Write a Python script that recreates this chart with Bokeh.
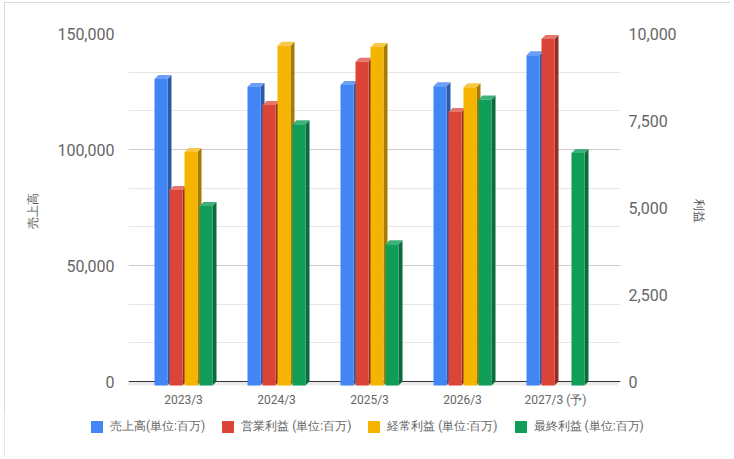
import math
from bokeh.plotting import figure
from bokeh.layouts import column
from bokeh.models import (Range1d, LinearAxis, FixedTicker, NumeralTickFormatter,
                          Legend, LegendItem)
from bokeh.embed import file_html
from bokeh.resources import INLINE

# ---------------- data ----------------
categories = ["2023/3", "2024/3", "2025/3", "2026/3", "2027/3 (予)"]
sales = [132100, 128700, 129500, 129000, 142300]          # 売上高 (left axis)
op_profit = [5620, 8060, 9300, 7860, 9960]                # 営業利益 (right axis)
ord_profit = [6710, 9760, 9730, 8570, float("nan")]       # 経常利益 (right axis)
net_profit = [5160, 7510, 4060, 8220, 6680]               # 最終利益 (right axis)
series_names = ["売上高(単位:百万)", "営業利益 (単位:百万)",
                "経常利益 (単位:百万)", "最終利益 (単位:百万)"]
left_ticks = [0, 50000, 100000, 150000]
right_ticks = [0, 2500, 5000, 7500, 10000]
left_title = "売上高"
right_title = "利益"

# ---------------- styling / geometry ----------------
front_colors = ["#4285F4", "#DB4437", "#F4B400", "#0F9D58"]
side_colors = ["#2C5BA8", "#932E25", "#A67B00", "#0A6B3C"]
top_colors = ["#6C9FF6", "#E4766D", "#F7C748", "#40B07B"]

FONT = "Roboto"
L_MAX = left_ticks[-1]
R_MAX = right_ticks[-1]
GRID_PX = 348.0          # pixel height from 0 to max
FRAME_H = 355            # frame height (extra below 0 for floor)
FRAME_W = 492
CAT_PX = 93.0            # pixels per category
FIRST_CENTER_PX = 55.0   # px from frame left to first category centre

x_start = -FIRST_CENTER_PX / CAT_PX
x_end = x_start + FRAME_W / CAT_PX
yl_start = -(FRAME_H - GRID_PX) / GRID_PX * L_MAX
yr_start = -(FRAME_H - GRID_PX) / GRID_PX * R_MAX

W = 726
H1 = 408
H2 = 46
p = figure(width=W, height=H1, output_backend="svg", toolbar_location=None,
           x_range=Range1d(x_start, x_end), y_range=Range1d(yl_start, L_MAX),
           min_border_left=124, min_border_right=W - 124 - FRAME_W,
           min_border_top=31, min_border_bottom=H1 - 31 - FRAME_H)
p.extra_y_ranges = {"right": Range1d(yr_start, R_MAX)}
p.outline_line_color = None
p.background_fill_color = "white"
p.border_fill_color = "white"

# grid
p.xgrid.visible = False
minor = []
for a, b in zip(left_ticks[:-1], left_ticks[1:]):
    step = (b - a) / 3.0
    minor += [a + step, a + 2 * step]
p.ygrid.ticker = FixedTicker(ticks=left_ticks[1:], minor_ticks=minor)
p.ygrid.grid_line_color = "#cccccc"
p.ygrid.minor_grid_line_color = "#e6e6e6"

# depth of 3D effect
DX = 4.0 / CAT_PX
DY_PX = 4.0
BAR_W = 13.0 / CAT_PX
BAR_STEP = 15.0 / CAT_PX
GROUP_OFF = -29.0 / CAT_PX

# floor below baseline
fdy = DY_PX / GRID_PX * L_MAX
p.patch([x_start, x_end, x_end - DX, x_start - DX], [0, 0, -fdy, -fdy],
        fill_color="#ebebeb", line_color=None)
# baseline
p.line([x_start, x_end], [0, 0], line_color="#333333", line_width=1)

all_series = [sales, op_profit, ord_profit, net_profit]
for k, vals in enumerate(all_series):
    vmax = L_MAX if k == 0 else R_MAX
    dy = DY_PX / GRID_PX * vmax
    fl, fr, fb, ft = [], [], [], []
    sxs, sys_, txs, tys = [], [], [], []
    for i, v in enumerate(vals):
        if v is None or (isinstance(v, float) and math.isnan(v)):
            continue
        x0 = i + GROUP_OFF + k * BAR_STEP
        x1 = x0 + BAR_W
        fl.append(x0); fr.append(x1); fb.append(-dy); ft.append(v - dy)
        sxs.append([x1, x1 + DX, x1 + DX, x1])
        sys_.append([-dy, 0, v, v - dy])
        txs.append([x0, x1, x1 + DX, x0 + DX])
        tys.append([v - dy, v - dy, v, v])
    kw = {} if k == 0 else {"y_range_name": "right"}
    p.patches(sxs, sys_, fill_color=side_colors[k], line_color=None, **kw)
    p.patches(txs, tys, fill_color=top_colors[k], line_color=None, **kw)
    p.quad(left=fl, right=fr, bottom=fb, top=ft, fill_color=front_colors[k],
           line_color=None, **kw)

def style_axis(ax, size, standoff):
    ax.axis_line_color = None
    ax.major_tick_line_color = None
    ax.minor_tick_line_color = None
    ax.major_tick_out = 0
    ax.major_tick_in = 0
    ax.minor_tick_out = 0
    ax.minor_tick_in = 0
    ax.major_label_text_font = FONT
    ax.major_label_text_font_size = size
    ax.major_label_text_color = "#666666"
    ax.major_label_standoff = standoff
    ax.axis_label_text_font = FONT
    ax.axis_label_text_font_size = "12px"
    ax.axis_label_text_font_style = "normal"
    ax.axis_label_text_color = "#555555"

# axes
p.yaxis.ticker = FixedTicker(ticks=left_ticks)
ax_l = p.yaxis[0]
ax_l.formatter = NumeralTickFormatter(format="0,0")
style_axis(ax_l, "16px", 14)
ax_l.axis_label = left_title
ax_l.axis_label_standoff = 14

ax_r = LinearAxis(y_range_name="right", ticker=FixedTicker(ticks=right_ticks),
                  formatter=NumeralTickFormatter(format="0,0"))
style_axis(ax_r, "16px", 8)
ax_r.axis_label = right_title
ax_r.axis_label_standoff = 12
p.add_layout(ax_r, "right")

ax_x = p.xaxis[0]
ax_x.ticker = FixedTicker(ticks=list(range(len(categories))))
ax_x.major_label_overrides = {i: c for i, c in enumerate(categories)}
style_axis(ax_x, "12px", 4)

# ---------------- legend strip ----------------
pl = figure(width=W, height=H2, output_backend="svg", toolbar_location=None,
            x_axis_type=None, y_axis_type=None, x_range=Range1d(0, 1),
            y_range=Range1d(0, 1), min_border=0, min_border_left=0,
            min_border_right=0, min_border_top=0, min_border_bottom=0)
pl.outline_line_color = None
pl.background_fill_color = "white"
pl.border_fill_color = "white"
try:
    p.frame_align = False
    pl.frame_align = False
except Exception:
    pass
items = []
for k in range(len(series_names)):
    # legend-only swatch renderer, kept outside the visible range of the strip
    r = pl.quad(left=[-3], right=[-2], bottom=[-3], top=[-2],
                fill_color=front_colors[k], line_color=None)
    items.append(LegendItem(label=series_names[k], renderers=[r]))
legend = Legend(items=items, orientation="horizontal", location=(85, 21),
                glyph_width=15, glyph_height=15, label_standoff=6, spacing=15,
                padding=4, margin=0, border_line_color=None,
                background_fill_alpha=0, label_text_font=FONT,
                label_text_font_size="12px", label_text_color="#666666")
pl.add_layout(legend, "center")

layout = column(p, pl, spacing=0)
layout.styles = {"margin-left": "4px", "margin-top": "2px",
                 "outline": "1px solid #cccccc", "outline-offset": "-1px"}

open("out.html", "w").write(file_html(layout, INLINE))
